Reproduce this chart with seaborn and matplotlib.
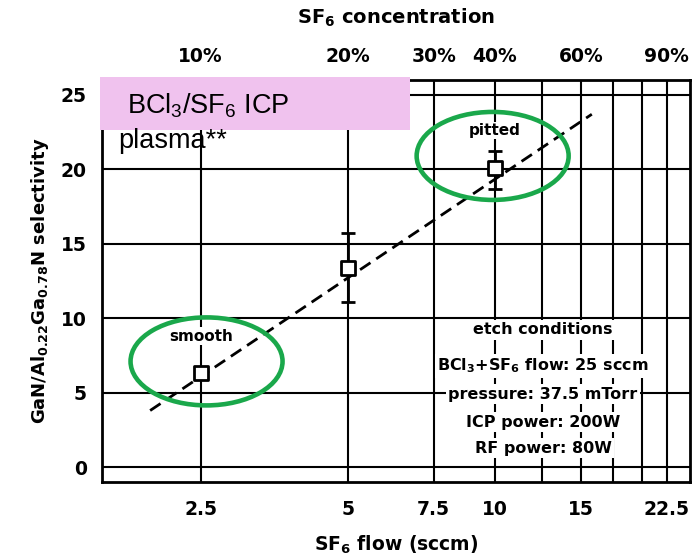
import matplotlib
matplotlib.use("Agg")
import matplotlib.pyplot as plt
import matplotlib.ticker as mticker
import seaborn as sns
import pandas as pd
from matplotlib.patches import Ellipse, Rectangle
from matplotlib.transforms import ScaledTranslation

# measured selectivity vs SF6 flow
sf6_flow = [2.5, 5.0, 10.0]
selectivity = [6.3, 13.4, 20.1]
err_minus = [0.0, 2.3, 1.4]
err_plus = [0.0, 2.3, 1.1]
surface = ["smooth", "", "pitted"]

# dashed trend line end points
fit_flow = [1.97, 15.8]
fit_sel = [3.8, 23.7]

# axis ticks
flow_ticks = [2.5, 5, 7.5, 10, 15, 22.5]
flow_labels = ["2.5", "5", "7.5", "10", "15", "22.5"]
conc_ticks = [10, 20, 30, 40, 60, 90]
conc_labels = ["10%", "20%", "30%", "40%", "60%", "90%"]
grid_flows = [2.5, 5, 7.5, 10, 12.5, 15, 17.5, 20, 22.5]
sel_ticks = [0, 5, 10, 15, 20, 25]

conditions = ["etch conditions",
              "BCl$_3$+SF$_6$ flow: 25 sccm",
              "pressure: 37.5 mTorr",
              "ICP power: 200W",
              "RF power: 80W"]
condition_rows_px = [330, 366, 394, 422, 448]

sns.set_theme(style="white")
plt.rcParams["font.family"] = ["DejaVu Sans"]
plt.rcParams["mathtext.default"] = "regular"
for key in ["text.color", "axes.labelcolor", "xtick.color", "ytick.color"]:
    plt.rcParams[key] = "black"

BOLD = dict(family="DejaVu Sans", weight="bold")

W, H = 699, 560
fig = plt.figure(figsize=(W / 100, H / 100), dpi=100)
ax = fig.add_axes([102 / W, 1 - 482 / H, 588 / W, 402 / H])

df = pd.DataFrame({"flow": sf6_flow, "sel": selectivity})
fit = pd.DataFrame({"flow": fit_flow, "sel": fit_sel})

ax.set_xscale("log")
ax.set_xlim(1.57, 25.1)
ax.set_ylim(-1, 26)

# grid
ax.set_xticks(grid_flows, minor=True)
ax.set_xticks(flow_ticks)
ax.set_xticklabels(flow_labels)
ax.xaxis.set_minor_formatter(mticker.NullFormatter())
ax.set_yticks(sel_ticks)
ax.grid(True, which="both", color="black", linewidth=1.5, zorder=0)
for gl in ax.get_ygridlines():
    if abs(gl.get_ydata()[0] - 15) < 1e-6:
        gl.set_linewidth(1.0)
        gl.set_linestyle((0, (6, 1.5)))
        gl.set_alpha(0.6)
ax.tick_params(axis="both", which="both", length=0)
ax.tick_params(axis="x", pad=13, labelsize=13.5)
ax.tick_params(axis="y", pad=11, labelsize=13.5)
for lab in ax.get_xticklabels() + ax.get_yticklabels():
    lab.set_fontweight("bold")
for s in ax.spines.values():
    s.set_color("black")
    s.set_linewidth(2)

sns.lineplot(data=fit, x="flow", y="sel", ax=ax, color="black", linewidth=2,
             linestyle=(0, (4.5, 2.5)), zorder=3)
ax.errorbar(sf6_flow, selectivity, yerr=[err_minus, err_plus], fmt="none",
            ecolor="black", elinewidth=2, capsize=5, capthick=2, zorder=4)
sns.scatterplot(data=df, x="flow", y="sel", ax=ax, marker="s", s=110,
                facecolor="white", edgecolor="black", linewidth=2, zorder=5)

ax.set_xlabel("SF$_6$ flow (sccm)", fontsize=13.5, labelpad=10.5, **BOLD)
ax.set_ylabel("GaN/Al$_{0.22}$Ga$_{0.78}$N selectivity", fontsize=13,
              labelpad=7, **BOLD)

top = ax.secondary_xaxis("top", functions=(lambda f: f * 4.0, lambda c: c / 4.0))
top.set_xticks(conc_ticks)
top.set_xticklabels(conc_labels)
top.xaxis.set_minor_locator(mticker.NullLocator())
top.tick_params(axis="x", which="both", length=0, pad=10, labelsize=13.5)
for lab in top.get_xticklabels():
    lab.set_fontweight("bold")
top.set_xlabel("SF$_6$ concentration", fontsize=14, labelpad=16.5, **BOLD)
top.spines["top"].set_visible(False)

# surface morphology labels
for f, s, lab in zip(sf6_flow, selectivity, surface):
    if lab:
        ax.text(f, s + 2.5, lab, ha="center", va="center", fontsize=11,
                zorder=6, bbox=dict(facecolor="white", edgecolor="none", pad=1),
                **BOLD)

# highlight ellipses
for f, s in [(2.57, 7.1), (9.9, 20.9)]:
    tr = fig.dpi_scale_trans + ScaledTranslation(f, s, ax.transData)
    ax.add_patch(Ellipse((0, 0), 1.52, 0.88, transform=tr, facecolor="none",
                         edgecolor="#1aa84b", linewidth=3.3, zorder=7,
                         clip_on=False))

# etch condition block
cond_x = 543 / W
for line, ypix in zip(conditions, condition_rows_px):
    fig.text(cond_x, 1 - ypix / H, line, ha="center", va="center", fontsize=11.5,
             zorder=8, bbox=dict(facecolor="white", edgecolor="none", pad=2),
             **BOLD)

# plasma label box
fig.patches.append(Rectangle((100 / W, 1 - 130 / H), 310 / W, 53 / H,
                             transform=fig.transFigure, facecolor="#f0c2ee",
                             edgecolor="none", zorder=9))
fig.text(127 / W, 1 - 106 / H, "BCl$_3$/SF$_6$ ICP", ha="left", va="center",
         fontsize=19.5, family="Liberation Sans", zorder=10)
fig.text(118 / W, 1 - 141 / H, "plasma**", ha="left", va="center",
         fontsize=19.5, family="Liberation Sans", zorder=10)

fig.savefig("out.png", dpi=100)
